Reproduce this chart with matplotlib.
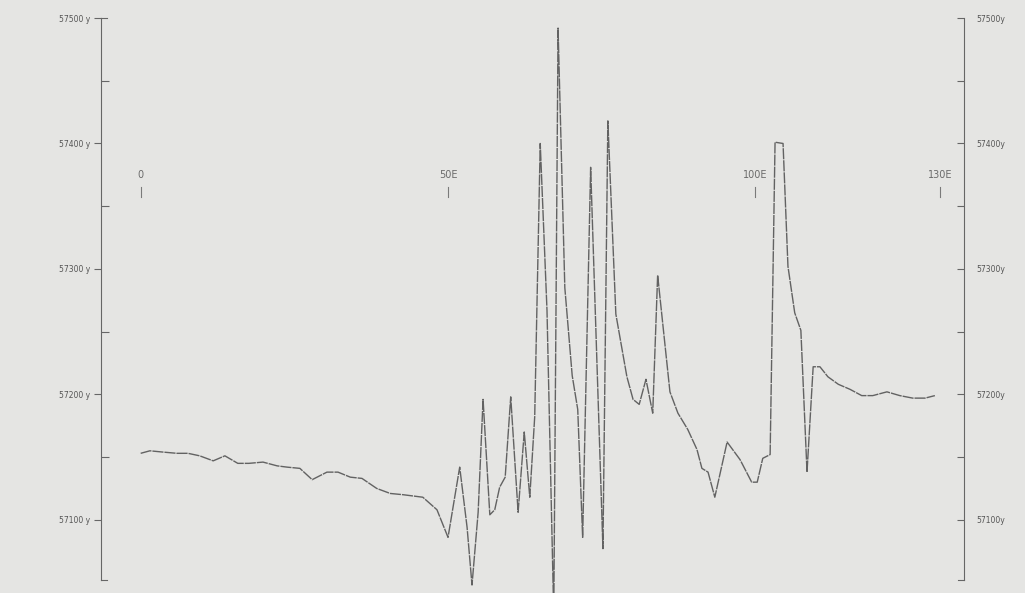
import matplotlib.pyplot as plt
from matplotlib.ticker import FixedLocator

# profile distance (km east) and total field (gamma)
dist = [0.0, 1.5, 3.6, 5.9, 7.7, 9.6, 11.8, 13.7, 15.8, 17.6, 19.9, 22.2, 23.8, 25.9,
        27.9, 30.3, 32.1, 34.1, 36.0, 38.4, 40.6, 42.7, 44.3, 45.9, 48.2, 50.0,
        51.9, 53.1, 53.9, 54.9, 55.7, 56.8, 57.6, 58.4, 59.3, 60.2, 61.4, 62.4,
        63.3, 64.1, 65.0, 66.1, 67.2, 67.9, 69.0, 70.2, 71.1, 71.9, 73.2, 75.2,
        76.0, 77.3, 79.1, 80.1, 81.1, 82.2, 83.3, 84.1, 86.1, 87.4, 89.0, 90.5,
        91.3, 92.3, 93.4, 95.4, 97.5, 99.4, 100.3, 101.2, 102.4, 103.2, 104.5,
        105.3, 106.4, 107.4, 108.4, 109.4, 110.5, 111.8, 113.5, 115.4, 117.3,
        119.1, 121.4, 123.5, 125.6, 127.6, 129.2]
field = [57153, 57155, 57154, 57153, 57153, 57151, 57147, 57151, 57145, 57145,
         57146, 57143, 57142, 57141, 57132, 57138, 57138, 57134, 57133, 57125,
         57121, 57120, 57119, 57118, 57108, 57086, 57142, 57094, 57048, 57106,
         57196, 57104, 57108, 57126, 57134, 57198, 57106, 57170, 57118, 57182,
         57400, 57267, 57024, 57492, 57285, 57215, 57188, 57086, 57381, 57077,
         57418, 57264, 57214, 57196, 57192, 57212, 57185, 57295, 57202, 57185,
         57172, 57156, 57141, 57138, 57118, 57162, 57148, 57130, 57130, 57149,
         57152, 57401, 57400, 57302, 57265, 57251, 57138, 57222, 57222, 57214,
         57208, 57204, 57199, 57199, 57202, 57199, 57197, 57197, 57199]

dist_ticks = [0, 50, 100, 130]
dist_labels = ['0', '50E', '100E', '130E']
major_levels = [57100, 57200, 57300, 57400, 57500]
minor_levels = [57150, 57250, 57350, 57450]
y_bottom = 57052

bg = '#e5e5e3'
ink = '#626262'

fig = plt.figure(figsize=(10.25, 5.93), dpi=100, facecolor=bg)
ax = fig.add_axes([0.0985, 0.0219, 0.842, 0.9477], facecolor=bg)
ax.set_xlim(-6.46, 133.94)
ax.set_ylim(y_bottom, 57500)

# the magnetic profile, allowed to run past the frame at the bottom
ax.plot(dist, field, color=ink, lw=1.0, dashes=(8, 0.7), clip_on=False, zorder=3)

# distance marks written inside the frame
for d, lab in zip(dist_ticks, dist_labels):
    ax.text(d, 57375, lab, ha='center', va='center', fontsize=7, color='#6a6a6a')
    ax.plot([d, d], [57357, 57365], color='#7a7a7a', lw=0.8)

# only the two vertical scales are drawn
for s in ['top', 'bottom']:
    ax.spines[s].set_visible(False)
ax.spines['left'].set_color('#666666')
ax.spines['right'].set_visible(False)
ax.set_xticks([])

ax.yaxis.set_major_locator(FixedLocator(major_levels))
ax.yaxis.set_minor_locator(FixedLocator(minor_levels))
ax.set_yticklabels(['%d y' % v for v in major_levels])
ax.tick_params(axis='y', which='major', direction='out', length=5, width=0.8,
               color='#666666', labelsize=5.5, labelcolor='#555555', pad=3)
ax.tick_params(axis='y', which='minor', direction='in', length=6, width=0.8,
               color='#666666')
ax.yaxis.get_major_ticks()[-1].tick1line.set_visible(False)

# bracket ends on the left scale
yt = ax.get_yaxis_transform()
for v in [57500, y_bottom]:
    ax.plot([0, 0.007], [v, v], color='#666666', lw=0.8, transform=yt, clip_on=False)

# right-hand scale, ticks pointing inward
ax2 = ax.twinx()
ax2.set_ylim(y_bottom, 57500)
for s in ['top', 'bottom', 'left']:
    ax2.spines[s].set_visible(False)
ax2.spines['right'].set_color('#666666')
ax2.yaxis.set_major_locator(FixedLocator(major_levels))
ax2.yaxis.set_minor_locator(FixedLocator(minor_levels))
ax2.set_yticklabels(['%dy' % v for v in major_levels])
ax2.tick_params(axis='y', which='major', direction='in', length=5, width=0.8,
                color='#666666', labelsize=5.5, labelcolor='#555555', pad=9)
ax2.tick_params(axis='y', which='minor', direction='in', length=5, width=0.8,
                color='#666666')
yt2 = ax2.get_yaxis_transform()
ax2.plot([0.993, 1], [y_bottom, y_bottom], color='#666666', lw=0.8,
         transform=yt2, clip_on=False)

plt.savefig('out.png', dpi=100, facecolor=bg)
